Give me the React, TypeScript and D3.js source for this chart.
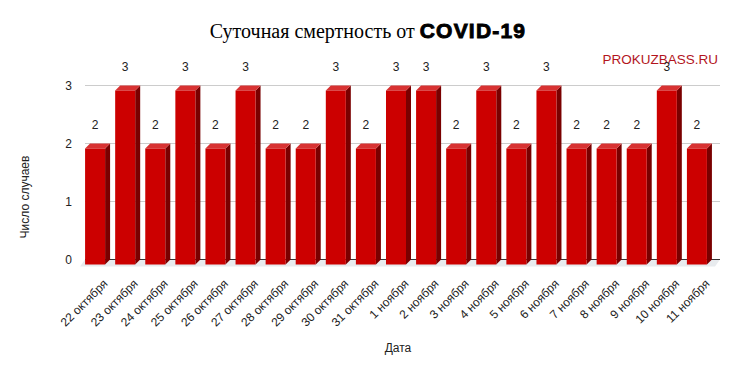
import React from 'react'
import * as d3 from 'd3'

// Daily COVID-19 deaths, 22 Oct – 11 Nov
const dates = [
  '22 октября', '23 октября', '24 октября', '25 октября', '26 октября',
  '27 октября', '28 октября', '29 октября', '30 октября', '31 октября',
  '1 ноября', '2 ноября', '3 ноября', '4 ноября', '5 ноября', '6 ноября',
  '7 ноября', '8 ноября', '9 ноября', '10 ноября', '11 ноября',
]
const deaths = [2, 3, 2, 3, 2, 3, 2, 2, 3, 2, 3, 3, 2, 3, 2, 3, 2, 2, 2, 3, 2]
const yTicks = [0, 1, 2, 3]

const width = 738
const height = 374
const depth = 5 // 3d offset of the bars

const App: React.FC = () => {
  const x = d3.scaleBand<string>().domain(dates).range([75, 717]).paddingInner(0.335).paddingOuter(0.335)
  const y = d3.scaleLinear().domain([0, 3]).range([259.5, 85.5])
  const bw = x.bandwidth()
  const y0 = y(0) + depth

  return (
    <svg width={width} height={height} style={{ position: 'absolute', left: 0, top: 0, background: '#fff' }}
      fontFamily="Arial, 'Liberation Sans', sans-serif">
      {/* title */}
      <text x={368} y={38} textAnchor="middle" fill="#000">
        <tspan fontFamily="'Liberation Serif', 'Times New Roman', serif" fontSize={20}>Суточная смертность от </tspan>
        <tspan fontFamily="Arial, 'Liberation Sans', sans-serif" fontSize={21} fontWeight="bold"
          stroke="#000" strokeWidth={0.9} letterSpacing={1.2}>COVID-19</tspan>
      </text>
      <text x={718} y={64} textAnchor="end" fontSize={13.5} fill="#b3151d">PROKUZBASS.RU</text>

      {/* gridlines */}
      {yTicks.filter((t) => t > 0).map((t) => (
        <line key={t} x1={85} x2={720} y1={y(t)} y2={y(t)} stroke="#cccccc" strokeWidth={1} />
      ))}
      <polygon points={`80,${y0 + 2} ${85},${y(0)} 720,${y(0)} 715,${y0 + 2}`} fill="#e8ebee" />
      <line x1={85} x2={720} y1={y(0)} y2={y(0)} stroke="#333" strokeWidth={1} />

      {/* y tick labels */}
      {yTicks.map((t) => (
        <text key={t} x={72} y={y(t) + 4} textAnchor="end" fontSize={12} fill="#222">{t}</text>
      ))}

      {/* bars */}
      {dates.map((d, i) => {
        const xb = x(d)!
        const yf = y(deaths[i]) + depth
        return (
          <g key={d}>
            <polygon points={`${xb + bw},${yf} ${xb + bw + depth},${yf - depth} ${xb + bw + depth},${y0 - depth} ${xb + bw},${y0}`} fill="#7a0000" />
            <polygon points={`${xb},${yf} ${xb + depth},${yf - depth} ${xb + bw + depth},${yf - depth} ${xb + bw},${yf}`} fill="#d83232" />
            <rect x={xb} y={yf} width={bw} height={y0 - yf} fill="#cc0000" />
            <text x={xb + bw / 2} y={y(deaths[i]) - 15} textAnchor="middle" fontSize={12} fill="#222">{deaths[i]}</text>
          </g>
        )
      })}

      {/* x labels */}
      {dates.map((d) => (
        <text key={d} transform={`translate(${x(d)! + bw / 2 + 7},278) rotate(-45)`} dy="0.75em"
          textAnchor="end" fontSize={12} fill="#222">{d}</text>
      ))}

      <text x={398} y={352} textAnchor="middle" fontSize={12} fill="#222">Дата</text>
      <text transform="translate(29,197) rotate(-90)" textAnchor="middle" fontSize={12} fill="#222">Число случаев</text>
    </svg>
  )
}

export default App
